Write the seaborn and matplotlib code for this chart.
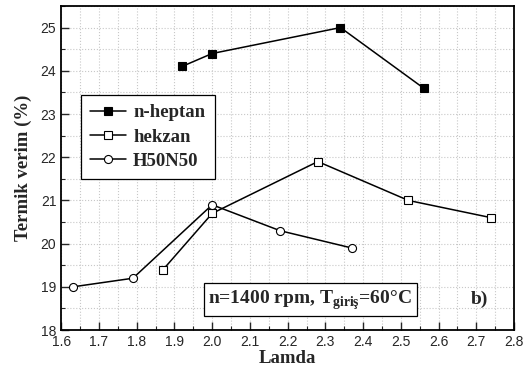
import pandas as pd
import matplotlib
matplotlib.use("Agg")
import matplotlib.pyplot as plt
import seaborn as sns
from matplotlib.ticker import MultipleLocator

heptan_x = [1.92, 2.00, 2.34, 2.56]
heptan_y = [24.1, 24.4, 25.0, 23.6]
hekzan_x = [1.87, 2.00, 2.28, 2.52, 2.74]
hekzan_y = [19.4, 20.7, 21.9, 21.0, 20.6]
h50_x = [1.63, 1.79, 2.00, 2.18, 2.37]
h50_y = [19.0, 19.2, 20.9, 20.3, 19.9]
x_ticks = [1.6, 1.7, 1.8, 1.9, 2.0, 2.1, 2.2, 2.3, 2.4, 2.5, 2.6, 2.7, 2.8]
y_ticks = [18, 19, 20, 21, 22, 23, 24, 25]

sns.set_style("white")
plt.rcParams["font.family"] = ["Liberation Sans", "DejaVu Sans"]
plt.rcParams["mathtext.fontset"] = "custom"
plt.rcParams["mathtext.bf"] = "Liberation Serif:bold"
plt.rcParams["mathtext.rm"] = "Liberation Serif:bold"

fig, ax = plt.subplots(figsize=(5.23, 3.73), dpi=100)
fig.subplots_adjust(left=0.117, right=0.983, top=0.984, bottom=0.115)

series = [
    ("n-heptan", heptan_x, heptan_y, "s", "black"),
    ("hekzan", hekzan_x, hekzan_y, "s", "white"),
    ("H50N50", h50_x, h50_y, "o", "white"),
]
for name, xs, ys, mk, fc in series:
    df = pd.DataFrame({"x": xs, "y": ys})
    sns.lineplot(data=df, x="x", y="y", ax=ax, color="black", lw=1.1,
                 marker=mk, markersize=5.8 if mk == "o" else 5.2,
                 markerfacecolor=fc, markeredgecolor="black",
                 markeredgewidth=0.8, label=name)

ax.set_xlim(1.6, 2.8)
ax.set_ylim(18, 25.5)
ax.set_xticks(x_ticks)
ax.set_yticks(y_ticks)
ax.set_xticklabels([f"{v:.1f}" for v in x_ticks])
ax.xaxis.set_minor_locator(MultipleLocator(0.05))
ax.yaxis.set_minor_locator(MultipleLocator(0.5))
ax.tick_params(which="major", direction="in", length=6, width=1, labelsize=10,
               top=False, right=False, left=True, bottom=True)
ax.tick_params(which="minor", direction="in", length=3, width=0.8,
               left=True, bottom=True)
ax.grid(which="both", color="#c8c8c8", linestyle=":", linewidth=0.8)
for s in ax.spines.values():
    s.set_color("black")
    s.set_linewidth(1.3)

lab_font = {"family": "Liberation Serif", "weight": "bold", "size": 13.5}
ax.set_xlabel("Lamda", fontdict=lab_font, labelpad=1)
ax.set_ylabel("Termik verim (%)", fontdict=lab_font, labelpad=6)

leg = ax.legend(loc="upper left", bbox_to_anchor=(0.022, 0.755), frameon=True,
                fancybox=False, edgecolor="black", framealpha=1,
                prop={"family": "Liberation Serif", "weight": "bold", "size": 13.5},
                handlelength=1.9, borderpad=0.5, labelspacing=0.38,
                handletextpad=0.4)
leg.get_frame().set_linewidth(0.9)

ax.text(1.99, 18.62, "n=1400 rpm, T$_{\\mathbf{giriş}}$=60°C",
        fontfamily="Liberation Serif", fontweight="bold", fontsize=14,
        bbox=dict(boxstyle="square,pad=0.25", fc="white", ec="black", lw=0.9))
ax.text(2.685, 18.6, "b)", fontfamily="Liberation Serif", fontweight="bold",
        fontsize=14)

plt.savefig("out.png", dpi=100)
